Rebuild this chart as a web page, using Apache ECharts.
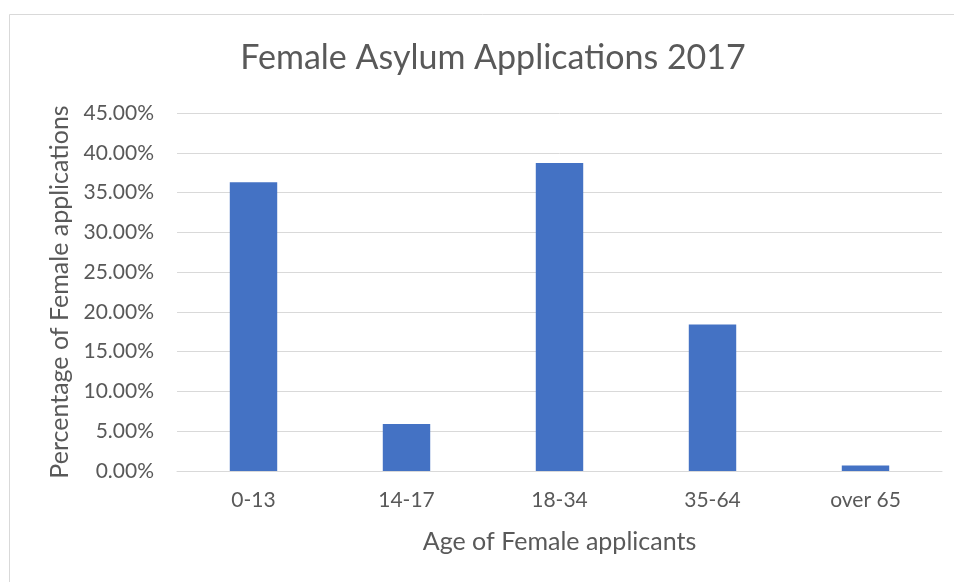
<!DOCTYPE html>
<html>
<head>
<meta charset="utf-8">
<script src="https://cdn.jsdelivr.net/npm/echarts@6/dist/echarts.min.js"></script>
<style>
  html, body { margin: 0; padding: 0; background: #ffffff; }
  #chart { width: 954px; height: 582px; }
</style>
</head>
<body>
<div id="chart"></div>
<script>
// Age groups of female asylum applicants and their share of applications (%)
const ageGroups = ['0-13', '14-17', '18-34', '35-64', 'over 65'];
const sharePercent = [36.3, 5.9, 38.7, 18.4, 0.7];
const yTicks = { min: 0, max: 45, step: 5 };

const FONT = 'Lato';
const TEXT = '#595959';

const chart = echarts.init(document.getElementById('chart'));
chart.setOption({
  backgroundColor: '#ffffff',
  animation: false,
  graphic: [{
    type: 'rect',
    shape: { x: 9.5, y: 14.5, width: 960, height: 600 },
    style: { fill: 'none', stroke: '#d9d9d9', lineWidth: 1 },
    silent: true
  }],
  title: {
    text: 'Female Asylum Applications 2017',
    left: 488,
    textAlign: 'center',
    top: 36,
    textStyle: { fontFamily: FONT, fontSize: 34, fontWeight: 'normal', color: TEXT }
  },
  grid: { left: 177, right: 12, top: 113, bottom: 111, containLabel: false },
  xAxis: {
    type: 'category',
    data: ageGroups,
    name: 'Age of Female applicants',
    nameLocation: 'middle',
    nameGap: 58,
    nameTextStyle: { fontFamily: FONT, fontSize: 25, color: TEXT },
    axisLine: { show: true, lineStyle: { color: '#d9d9d9', width: 1 } },
    axisTick: { show: false },
    axisLabel: { fontFamily: FONT, fontSize: 21, color: TEXT, margin: 19 }
  },
  yAxis: {
    type: 'value',
    min: yTicks.min,
    max: yTicks.max,
    interval: yTicks.step,
    name: 'Percentage of Female applications',
    nameLocation: 'middle',
    nameRotate: 90,
    nameGap: 104,
    nameTextStyle: { fontFamily: FONT, fontSize: 25, color: TEXT },
    axisLine: { show: false },
    axisTick: { show: false },
    splitLine: { lineStyle: { color: '#d9d9d9', width: 1 } },
    axisLabel: {
      fontFamily: FONT, fontSize: 21, color: TEXT, margin: 23,
      formatter: v => v.toFixed(2) + '%'
    }
  },
  series: [{
    type: 'bar',
    data: sharePercent,
    barWidth: '31%',
    itemStyle: { color: '#4472C4' }
  }]
});
</script>
</body>
</html>
